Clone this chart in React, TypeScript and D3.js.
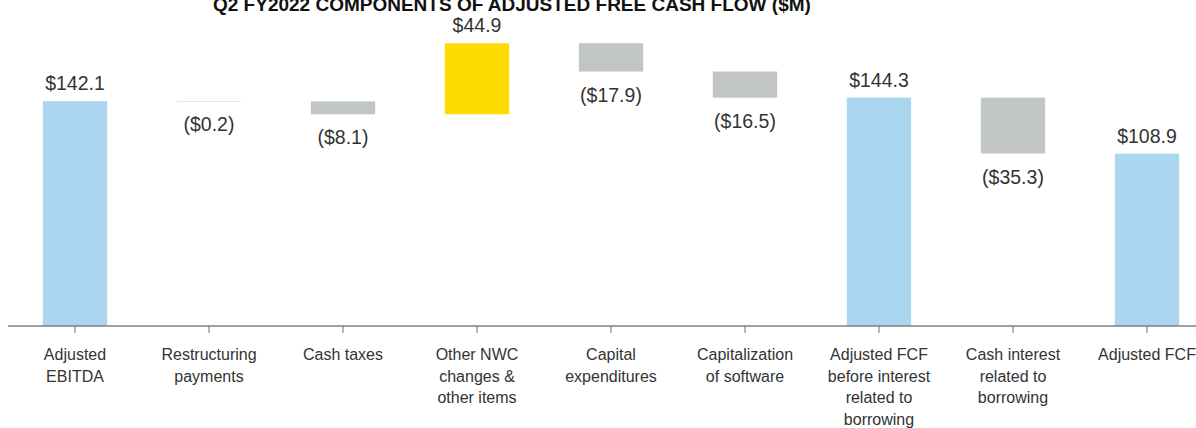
import React from "react";
import * as d3 from "d3";

const title = "Q2 FY2022 COMPONENTS OF ADJUSTED FREE CASH FLOW ($M)";
const categories = [
  "Adjusted\nEBITDA",
  "Restructuring\npayments",
  "Cash taxes",
  "Other NWC\nchanges &\nother items",
  "Capital\nexpenditures",
  "Capitalization\nof software",
  "Adjusted FCF\nbefore interest\nrelated to\nborrowing",
  "Cash interest\nrelated to\nborrowing",
  "Adjusted FCF",
];
const values = [142.1, -0.2, -8.1, 44.9, -17.9, -16.5, 144.3, -35.3, 108.9];
const kinds = ["total", "delta", "delta", "delta", "delta", "delta", "total", "delta", "total"];
const valueLabels = ["$142.1", "($0.2)", "($8.1)", "$44.9", "($17.9)", "($16.5)", "$144.3", "($35.3)", "$108.9"];

const W = 1196;
const H = 428;
const FONT = "'Liberation Sans', Arial, Helvetica, sans-serif";

export default function App() {
  const x = d3.scaleBand<string>().domain(categories).range([8, 1214]).paddingInner(0.52).paddingOuter(0.26);
  const y = d3.scaleLinear().domain([0, 206]).range([326, 0]);

  let running = 0;
  const bars = categories.map((c, i) => {
    let start: number, end: number;
    if (kinds[i] === "total") {
      start = 0;
      end = values[i];
      running = values[i];
    } else {
      start = running;
      end = running + values[i];
      running = end;
    }
    const top = y(Math.max(start, end));
    const bottom = y(Math.min(start, end));
    let color = "#ABD6EF";
    if (kinds[i] === "delta") color = values[i] >= 0 ? "#FFDC00" : "#C1C5C5";
    return { c, i, top, bottom, color, positive: values[i] >= 0 };
  });

  const axisY = y(0);

  return (
    <svg width={W} height={H} style={{ position: "absolute", left: 0, top: 0, background: "#fff" }} fontFamily={FONT}>
      <text x={213} y={11} fontSize={19} fontWeight="bold" fill="#111">{title}</text>
      {bars.map((b) => (
        <rect key={"r" + b.i} x={x(b.c)} y={b.top} width={x.bandwidth()} height={Math.max(0.4, b.bottom - b.top)} fill={b.color} />
      ))}
      {bars.map((b) => (
        <text
          key={"v" + b.i}
          x={(x(b.c) as number) + x.bandwidth() / 2}
          y={b.positive ? b.top - 11 : b.bottom + 30}
          textAnchor="middle"
          fontSize={19.5}
          fill="#333"
        >
          {valueLabels[b.i]}
        </text>
      ))}
      <line x1={8} x2={W} y1={axisY} y2={axisY} stroke="#808080" strokeWidth={1.5} />
      {categories.map((c, i) => {
        const cx = (x(c) as number) + x.bandwidth() / 2;
        return (
          <g key={"t" + i}>
            <line x1={cx} x2={cx} y1={axisY} y2={axisY + 7} stroke="#808080" strokeWidth={1.2} />
            <text x={cx} textAnchor="middle" fontSize={16} fill="#333">
              {c.split("\n").map((ln, j) => (
                <tspan key={j} x={cx} y={360 + j * 21.5}>{ln}</tspan>
              ))}
            </text>
          </g>
        );
      })}
    </svg>
  );
}
